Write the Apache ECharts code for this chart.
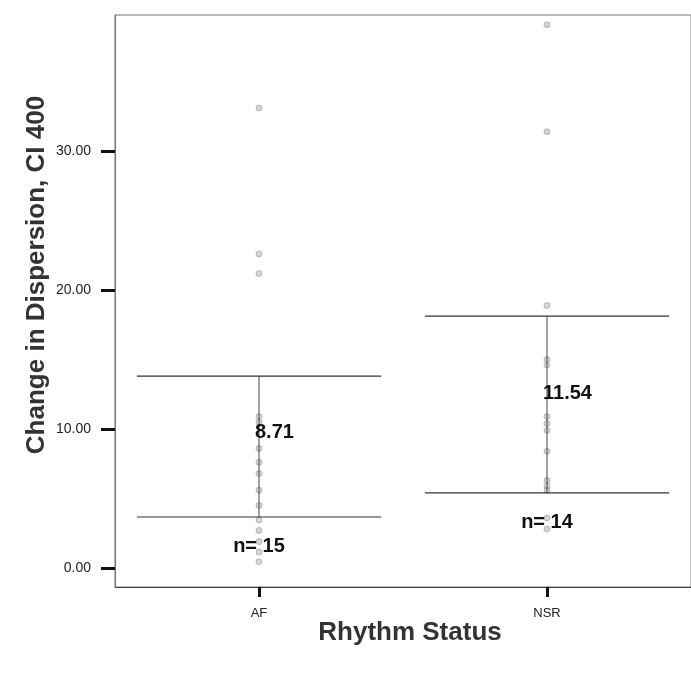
<!DOCTYPE html>
<html>
<head>
<meta charset="utf-8">
<script src="https://cdn.jsdelivr.net/npm/echarts@6/dist/echarts.min.js"></script>
<style>
  html, body { margin: 0; padding: 0; background: #fff; }
  #chart { width: 691px; height: 675px; }
</style>
</head>
<body>
<div id="chart"></div>
<script>
// ---- data ----
const categories = ['AF', 'NSR'];
const afValues = [33.1, 22.6, 21.2, 10.9, 10.5, 8.6, 7.6, 6.8, 5.6, 4.5, 3.45, 2.7, 1.9, 1.15, 0.45];
const nsrValues = [39.1, 31.4, 18.9, 15.0, 14.6, 10.9, 10.4, 9.9, 8.4, 6.3, 5.9, 5.6, 3.6, 2.8];
const means = [8.71, 11.54];
const ciLow = [3.67, 5.40];
const ciHigh = [13.81, 18.13];
const counts = [15, 14];
const yTicks = [0, 10, 20, 30];

const FONT = 'Liberation Sans, Arial, sans-serif';
const chart = echarts.init(document.getElementById('chart'));

const scatterData = [];
afValues.forEach(v => scatterData.push([categories[0], v]));
nsrValues.forEach(v => scatterData.push([categories[1], v]));

const barData = categories.map((c, i) => [i, ciLow[i], ciHigh[i], means[i], counts[i]]);

chart.setOption({
  animation: false,
  backgroundColor: '#fff',
  grid: { left: 115, top: 15, width: 578, height: 572, show: true, borderColor: '#777', borderWidth: 1 },
  xAxis: {
    type: 'category',
    data: categories,
    boundaryGap: true,
    axisLine: { show: true, onZero: false, lineStyle: { color: '#444', width: 1 } },
    axisTick: { show: true, alignWithLabel: true, length: 10, lineStyle: { color: '#111', width: 3 } },
    axisLabel: { color: '#222', fontSize: 13, fontFamily: FONT, margin: 20 },
    splitLine: { show: false }
  },
  yAxis: {
    type: 'value',
    min: -1.37,
    max: 39.8,
    axisLine: { show: true, lineStyle: { color: '#777', width: 1 } },
    axisTick: { show: true, customValues: yTicks, length: 14, lineStyle: { color: '#111', width: 3 } },
    axisLabel: { customValues: yTicks, color: '#222', fontSize: 14, fontFamily: FONT, margin: 24,
      formatter: v => v.toFixed(2) },
    splitLine: { show: false }
  },
  graphic: [
    { type: 'text', x: 37, y: 275, rotation: Math.PI / 2,
      style: { text: 'Change in Dispersion, CI 400', fill: '#333', font: 'bold 26px ' + FONT,
        align: 'center', verticalAlign: 'middle' } },
    { type: 'text', x: 410, y: 633,
      style: { text: 'Rhythm Status', fill: '#333', font: 'bold 26px ' + FONT,
        align: 'center', verticalAlign: 'middle' } }
  ],
  series: [
    {
      type: 'scatter',
      data: scatterData,
      symbol: 'circle',
      symbolSize: 6,
      itemStyle: { color: 'rgba(150,150,150,0.5)', borderColor: 'rgba(110,110,110,0.6)', borderWidth: 0.8 },
      silent: true,
      z: 3
    },
    {
      type: 'custom',
      data: barData,
      silent: true,
      clip: false,
      z: 4,
      renderItem: function (params, api) {
        const idx = api.value(0);
        const lo = api.coord([idx, api.value(1)]);
        const hi = api.coord([idx, api.value(2)]);
        const mid = api.coord([idx, api.value(3)]);
        const band = api.size([1, 0])[0];
        const half = band * 0.424;
        const cx = lo[0];
        const ls = { stroke: '#333', lineWidth: 1.2 };
        return {
          type: 'group',
          children: [
            { type: 'line', shape: { x1: cx - half, y1: hi[1], x2: cx + half, y2: hi[1] }, style: ls },
            { type: 'line', shape: { x1: cx - half, y1: lo[1], x2: cx + half, y2: lo[1] }, style: ls },
            { type: 'line', shape: { x1: cx, y1: lo[1], x2: cx, y2: hi[1] }, style: { stroke: '#444', lineWidth: 1 } },
            { type: 'text', style: { text: api.value(3).toFixed(2), x: cx - 4, y: mid[1] - 14,
                fill: '#111', font: 'bold 20px ' + FONT, align: 'left', verticalAlign: 'middle' } },
            { type: 'text', style: { text: 'n= ' + api.value(4), x: cx, y: lo[1] + 30,
                fill: '#111', font: 'bold 20px ' + FONT, align: 'center', verticalAlign: 'middle' } }
          ]
        };
      }
    }
  ]
});
</script>
</body>
</html>
